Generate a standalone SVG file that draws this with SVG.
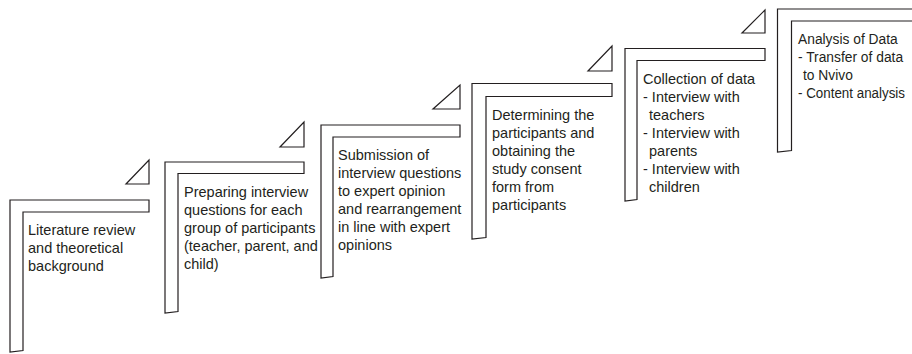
<svg xmlns="http://www.w3.org/2000/svg" width="912" height="354" viewBox="0 0 912 354">
  <style>
    .step { fill: none; stroke: #231f20; stroke-width: 1.2; stroke-linejoin: miter; }
    .arrow { fill: none; stroke: #231f20; stroke-width: 1.2; }
    .label { font-family: "Liberation Sans", Arial, sans-serif; font-size: 14.5px; fill: #231f20; }
    .label.tight { font-size: 13.8px; }
  </style>
  <rect width="912" height="354" fill="#ffffff"/>

  <!-- step markers (small triangles above each step) -->
  <g id="connectors">
    <polygon class="arrow" points="149,160 149,184 126,184"/>
    <polygon class="arrow" points="304,122 304,147 280,147"/>
    <polygon class="arrow" points="460,85 460,109 433,109"/>
    <polygon class="arrow" points="612,46 612,71 588,71"/>
    <polygon class="arrow" points="765,10 765,33 742,33"/>
  </g>

  <g id="step1">
    <polygon class="step" points="10,200 149,200 149,212 23,212 23,350.5 10,352"/>
    <text class="label">
      <tspan x="28" y="235">Literature review</tspan>
      <tspan x="28" y="253">and theoretical</tspan>
      <tspan x="28" y="271">background</tspan>
    </text>
  </g>

  <g id="step2">
    <polygon class="step" points="165,162 304,162 304,173.5 178,173.5 178,311.5 165,313"/>
    <text class="label">
      <tspan x="184" y="196.5">Preparing interview</tspan>
      <tspan x="184" y="214.5">questions for each</tspan>
      <tspan x="184" y="232.5">group of participants</tspan>
      <tspan x="184" y="250.5">(teacher, parent, and</tspan>
      <tspan x="184" y="268.5">child)</tspan>
    </text>
  </g>

  <g id="step3">
    <polygon class="step" points="321,125 460,125 460,137 333,137 333,276.5 321,278"/>
    <text class="label">
      <tspan x="338" y="160">Submission of</tspan>
      <tspan x="338" y="178">interview questions</tspan>
      <tspan x="338" y="196">to expert opinion</tspan>
      <tspan x="338" y="214">and rearrangement</tspan>
      <tspan x="338" y="232">in line with expert</tspan>
      <tspan x="338" y="250">opinions</tspan>
    </text>
  </g>

  <g id="step4">
    <polygon class="step" points="472,83.5 612,83.5 612,96.5 486,96.5 486,237.5 472,239"/>
    <text class="label">
      <tspan x="492" y="120">Determining the</tspan>
      <tspan x="492" y="138">participants and</tspan>
      <tspan x="492" y="156">obtaining the</tspan>
      <tspan x="492" y="174">study consent</tspan>
      <tspan x="492" y="192">form from</tspan>
      <tspan x="492" y="210">participants</tspan>
    </text>
  </g>

  <g id="step5">
    <polygon class="step" points="625,48.5 765,48.5 765,60.5 637,60.5 637,199.5 625,201"/>
    <text class="label">
      <tspan x="643" y="84">Collection of data</tspan>
      <tspan x="643" y="102">- Interview with</tspan>
      <tspan x="649" y="120">teachers</tspan>
      <tspan x="643" y="138">- Interview with</tspan>
      <tspan x="649" y="156">parents</tspan>
      <tspan x="643" y="174">- Interview with</tspan>
      <tspan x="649" y="192">children</tspan>
    </text>
  </g>

  <g id="step6">
    <path class="step" d="M912,9 H777.5 V152 L791.5,150.5 V21 H912"/>
    <text class="label tight">
      <tspan x="798" y="44">Analysis of Data</tspan>
      <tspan x="798" y="62">- Transfer of data</tspan>
      <tspan x="803" y="80">to Nvivo</tspan>
    </text>
    <text class="label tight" x="798" y="98" textLength="107" lengthAdjust="spacingAndGlyphs">- Content analysis</text>
  </g>
</svg>
